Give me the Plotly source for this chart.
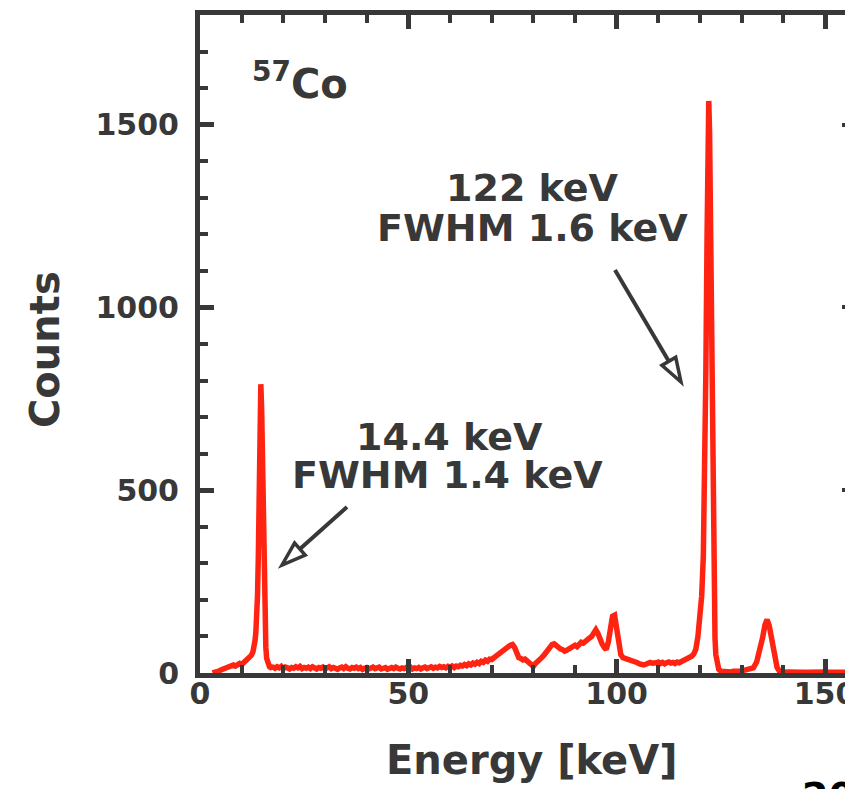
import plotly.graph_objects as go

# ---- 57Co spectrum (energy in keV, counts per channel) ----
energy = [
    3.0, 3.5, 4.0, 4.5, 5.0, 5.5, 6.0, 6.5, 7.0, 7.5, 8.0, 8.5, 9.0, 9.5, 10.0, 10.5, 11.0,
    11.5, 12.0, 12.3, 12.7, 13.0, 13.2, 13.4, 13.6, 13.8, 14.0, 14.2, 14.4, 14.6, 14.8, 15.0,
    15.2, 15.4, 15.6, 15.8, 16.0, 16.3, 16.7, 17.0,
    17.5, 18.0, 18.5, 19.0, 19.5, 20.0, 20.5, 21.0, 21.5, 22.0,
    22.5, 23.0, 23.5, 24.0, 24.5, 25.0, 25.5, 26.0, 26.5, 27.0,
    27.5, 28.0, 28.5, 29.0, 29.5, 30.0, 30.5, 31.0, 31.5, 32.0,
    32.5, 33.0, 33.5, 34.0, 34.5, 35.0, 35.5, 36.0, 36.5, 37.0,
    37.5, 38.0, 38.5, 39.0, 39.5, 40.0, 40.5, 41.0, 41.5, 42.0,
    42.5, 43.0, 43.5, 44.0, 44.5, 45.0, 45.5, 46.0, 46.5, 47.0,
    47.5, 48.0, 48.5, 49.0, 49.5, 50.0, 50.5, 51.0, 51.5, 52.0,
    52.5, 53.0, 53.5, 54.0, 54.5, 55.0, 55.5, 56.0, 56.5, 57.0,
    57.5, 58.0, 58.5, 59.0, 59.5, 60.0, 60.5, 61.0, 61.5, 62.0,
    62.5,
    63.0, 63.5, 64.0, 64.5, 65.0, 65.5, 66.0, 66.5, 67.0, 67.5, 68.0, 68.5, 69.0, 69.5, 70.0,
    70.5, 71.0, 71.5, 72.0, 72.5, 73.0, 73.5, 74.0, 74.5, 75.0, 75.5, 76.0, 76.5, 77.0, 77.5,
    78.0, 78.5, 79.0, 79.5, 80.0, 80.5, 81.0, 81.5, 82.0, 82.5, 83.0, 83.5, 84.0, 84.5, 85.0,
    85.5, 86.0, 86.5, 87.0, 87.5, 88.0, 88.5, 89.0, 89.5, 90.0, 90.5, 91.0, 91.5, 92.0, 92.5,
    93.0, 93.5, 94.0, 94.5, 95.0, 95.5, 96.0, 96.5, 97.0, 97.5, 98.0, 98.5, 99.0, 99.5, 100.0,
    100.5, 101.0, 101.5, 102.0, 102.5, 103.0, 103.5, 104.0, 104.5, 105.0, 105.5, 106.0, 106.5,
    107.0, 107.5, 108.0, 108.5, 109.0, 109.5, 110.0, 110.5, 111.0, 111.5, 112.0, 112.5, 113.0,
    113.5, 114.0, 114.5, 115.0, 115.5, 116.0, 116.5, 117.0, 117.5, 118.0, 118.5, 119.0, 119.5,
    120.0, 120.4, 120.8, 121.1, 121.4, 121.7, 121.9, 122.1, 122.3, 122.55, 122.8, 123.0, 123.2,
    123.4, 123.6, 123.8, 124.1, 124.5, 125.0,
    125.5, 126.0, 126.5, 127.0, 127.5, 128.0, 128.5, 129.0, 129.5, 130.0, 130.5, 131.0, 131.5,
    132.0, 132.8, 133.6, 134.4, 135.0, 135.6, 136.1, 136.6, 137.2, 137.6, 138.0, 138.5, 139.0,
    139.6, 140, 141, 142, 143, 144, 145, 146, 147, 148, 149, 150, 151, 152, 153, 154, 155,
]
counts = [
    0, 1, 3, 5, 8, 10, 14, 13, 17, 20, 22, 19, 24, 26, 23, 28, 33,
    35, 42, 48, 58, 72, 88, 110, 140, 210, 320, 520, 700, 790, 720, 540,
    360, 230, 130, 70, 40, 24, 17, 15,
    16, 13, 17, 14, 18, 12, 16, 14, 11, 15,
    13, 17, 14, 18, 12, 15, 13, 16, 12, 17,
    14, 11, 15, 13, 16, 11, 14, 17, 12, 15,
    13, 10, 14, 16, 12, 17, 13, 11, 15, 13,
    16, 12, 15, 10, 13, 15, 11, 14, 16, 12,
    14, 16, 11, 13, 15, 10, 13, 15, 12, 16,
    13, 11, 14, 12, 15, 13, 16, 11, 14, 12,
    15, 11, 14, 16, 12, 14, 17, 13, 16, 14,
    18, 15, 17, 14, 18, 16, 19, 15, 19, 17,
    21,
    19, 23, 20, 25, 22, 27, 24, 29, 26, 32, 29, 35, 32, 38, 37,
    42, 45, 50, 55, 60, 64, 68, 72, 76, 78, 70, 52, 42, 40, 36,
    38, 33, 30, 26, 18, 26, 30, 36, 42, 48, 55, 62, 72, 78, 80,
    74, 70, 66, 64, 60, 62, 66, 70, 74, 76, 72, 78, 84, 82, 88,
    92, 96, 100, 110, 118, 108, 90, 80, 70, 64, 85, 125, 155, 158, 120,
    80, 50, 42, 40, 38, 36, 37, 32, 30, 28, 25, 23, 22,
    24, 26, 29, 27, 26, 28, 30, 26, 29, 25, 28, 30, 27,
    29, 26, 30, 28, 31, 33, 36, 38, 42, 46, 52, 65, 100,
    150, 210, 320, 520, 820, 1200, 1480, 1565, 1480, 1200, 850, 560, 330,
    180, 95, 50, 25, 10, 5,
    4, 3, 5, 4, 3, 5, 4, 6, 5, 6, 7, 8, 10,
    13, 14, 30, 62, 95, 132, 146, 130, 90, 55, 35, 15, 6,
    3, 2, 3, 2, 2, 3, 2, 2, 3, 2, 2, 3, 2, 2, 2, 3, 2,
]
assert len(energy) == len(counts)

# peak labels (data coordinates) and arrows (page pixels: tail, tip)
peak_labels = [
    ("122 keV", 79.7, 1327),
    ("FWHM 1.6 keV", 79.7, 1217),
    ("14.4 keV", 59.8, 645),
    ("FWHM 1.4 keV", 59.3, 542),
]
arrows_px = [((347, 507), (282, 565)), ((615, 270), (681, 382))]

# ---- page geometry ----
FIG_W, FIG_H = 845, 789
M_L, M_T, M_B, M_R = 200, 15, 116, 0
PLOT_W = FIG_W - M_L - M_R
PLOT_H = FIG_H - M_T - M_B
X_MAX = 154.8
Y_MAX = 1800

INK = "#383838"
RED = "#ff2311"
FONT = "DejaVu Sans"


def to_data(px, py):
    return (px - M_L) * X_MAX / PLOT_W, (M_T + PLOT_H - py) * Y_MAX / PLOT_H


fig = go.Figure()
fig.add_trace(go.Scatter(x=energy, y=counts, mode="lines",
                         line=dict(color=RED, width=5.5), showlegend=False,
                         hoverinfo="skip"))
# invisible trace so the right-hand tick stubs have an axis to live on
fig.add_trace(go.Scatter(x=[None], y=[None], yaxis="y2", showlegend=False))

axis_common = dict(
    showline=True, linewidth=5, linecolor=INK, mirror="ticks",
    ticks="inside", ticklen=14, tickwidth=5, tickcolor=INK,
    showgrid=False, zeroline=False,
    tickfont=dict(family=FONT, size=30, color=INK, weight="bold"),
)

fig.update_layout(
    width=FIG_W, height=FIG_H,
    margin=dict(l=M_L, r=M_R, t=M_T, b=M_B, pad=0, autoexpand=False),
    paper_bgcolor="white", plot_bgcolor="white",
    xaxis=dict(range=[0, X_MAX], tick0=0, dtick=50, automargin=False,
               minor=dict(dtick=10, ticks="inside", ticklen=8, tickwidth=4, tickcolor=INK),
               ticklabeloverflow="allow", ticklabelstandoff=-10, **axis_common),
    yaxis=dict(range=[0, Y_MAX], tick0=0, dtick=500, automargin=False,
               minor=dict(dtick=100, ticks="inside", ticklen=8, tickwidth=4, tickcolor=INK),
               ticklabelstandoff=10, **{**axis_common, "mirror": False}),
    yaxis2=dict(range=[0, Y_MAX], overlaying="y", side="right", tick0=0, dtick=500,
                ticks="inside", ticklen=3, tickwidth=4, tickcolor=INK, automargin=False,
                showticklabels=False, showline=False, showgrid=False, zeroline=False),
)

annotations = []
for text, x, y in peak_labels:
    annotations.append(dict(text=text, x=x, y=y, xref="x", yref="y", showarrow=False,
                            xanchor="center", yanchor="middle",
                            font=dict(family=FONT, size=38, color=INK, weight="bold")))

annotations += [
    dict(text="<sup>57</sup>Co", x=12, y=1620, xref="x", yref="y", showarrow=False,
         xanchor="left", yanchor="middle",
         font=dict(family=FONT, size=40, color=INK, weight="bold")),
    dict(text="Energy [keV]", x=(531 - M_L) / PLOT_W, y=-(760 - M_T - PLOT_H) / PLOT_H,
         xref="paper", yref="paper", showarrow=False, xanchor="center", yanchor="middle",
         font=dict(family=FONT, size=40, color=INK, weight="bold")),
    dict(text="Counts", x=(45 - M_L) / PLOT_W, y=(M_T + PLOT_H - 350) / PLOT_H,
         xref="paper", yref="paper", showarrow=False, textangle=-90,
         xanchor="center", yanchor="middle",
         font=dict(family=FONT, size=40, color=INK, weight="bold")),
    dict(text="20", x=(800 - M_L) / PLOT_W, y=(M_T + PLOT_H - 772) / PLOT_H,
         xref="paper", yref="paper", showarrow=False, xanchor="left", yanchor="top",
         font=dict(family=FONT, size=38, color="black", weight="bold")),
]
fig.update_layout(annotations=annotations)

# arrows with open triangular heads
HEAD_LEN, HEAD_HALF = 24, 8
for (tx, ty), (hx, hy) in arrows_px:
    dx, dy = hx - tx, hy - ty
    n = (dx * dx + dy * dy) ** 0.5
    ux, uy = dx / n, dy / n
    bx, by = hx - ux * HEAD_LEN, hy - uy * HEAD_LEN
    c1 = (bx - uy * HEAD_HALF, by + ux * HEAD_HALF)
    c2 = (bx + uy * HEAD_HALF, by - ux * HEAD_HALF)
    x0, y0 = to_data(tx, ty)
    x1, y1 = to_data(bx, by)
    fig.add_shape(type="line", x0=x0, y0=y0, x1=x1, y1=y1, xref="x", yref="y",
                  line=dict(color=INK, width=4))
    pts = [to_data(hx, hy), to_data(*c1), to_data(*c2)]
    path = "M {} {} L {} {} L {} {} Z".format(*[v for p in pts for v in p])
    fig.add_shape(type="path", path=path, xref="x", yref="y",
                  fillcolor="white", line=dict(color=INK, width=3.5))

fig.write_html("out.html")
